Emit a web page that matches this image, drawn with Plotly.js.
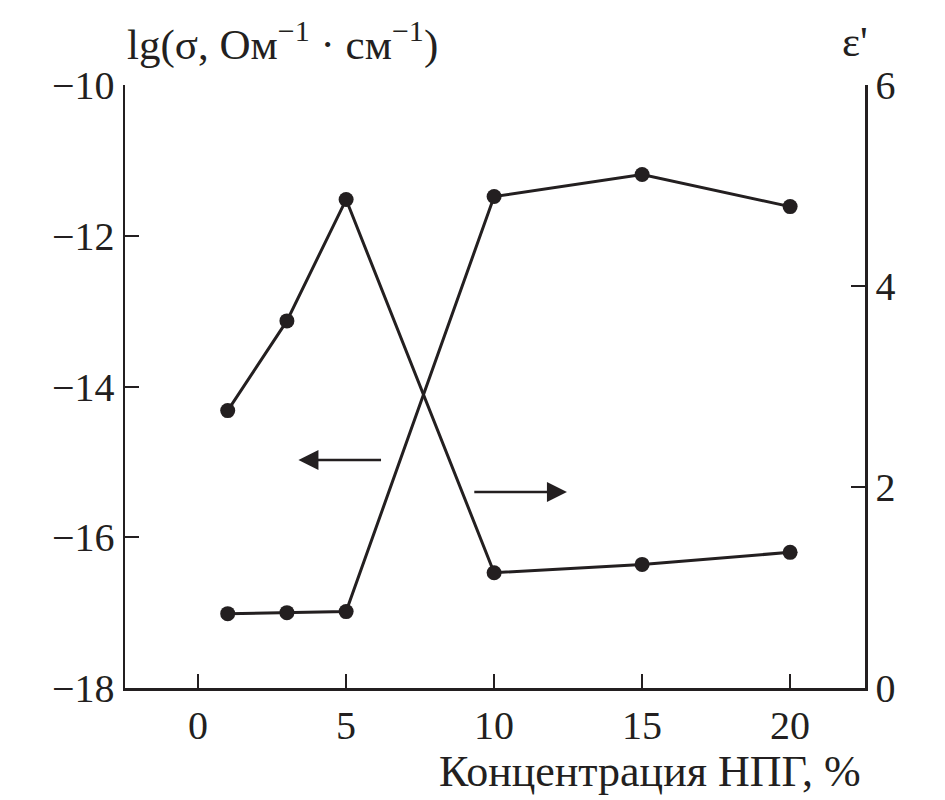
<!DOCTYPE html>
<html>
<head>
<meta charset="utf-8">
<script src="https://cdn.plot.ly/plotly-3.0.1.min.js"></script>
<style>html,body{margin:0;padding:0;background:#fff;}#chart{width:945px;height:800px;}</style>
</head>
<body>
<div id="chart"></div>
<script>
// Data
const concentration = [1, 3, 5, 10, 15, 20];          // Концентрация НПГ, %
const lgSigma = [-14.32, -13.13, -11.52, -16.47, -16.36, -16.20]; // left axis
const epsilon = [0.74, 0.75, 0.76, 4.89, 5.11, 4.79];  // right axis
const xTicks = [0, 5, 10, 15, 20];
const yLeftTicks = [-18, -16, -14, -12, -10];
const yRightTicks = [0, 2, 4, 6];

const ink = '#231f20';
const font = 'Liberation Serif, Times New Roman, serif';

const traces = [
  {x: concentration, y: lgSigma, type: 'scatter', mode: 'lines+markers',
   line: {color: ink, width: 3}, marker: {color: ink, size: 15}, yaxis: 'y', showlegend: false},
  {x: concentration, y: epsilon, type: 'scatter', mode: 'lines+markers',
   line: {color: ink, width: 3}, marker: {color: ink, size: 15}, yaxis: 'y2', showlegend: false}
];

const axisCommon = {
  showline: true, linecolor: ink, linewidth: 2.5, mirror: false,
  ticks: 'inside', ticklen: 14, tickwidth: 2, tickcolor: ink,
  showgrid: false, zeroline: false,
  tickfont: {family: font, size: 40, color: ink}
};

const layout = {
  width: 945, height: 800,
  margin: {l: 125, r: 80, t: 85, b: 112},
  paper_bgcolor: '#fff', plot_bgcolor: '#fff',
  font: {family: font, color: ink},
  xaxis: Object.assign({}, axisCommon, {range: [-2.47, 22.53], tickvals: xTicks}),
  yaxis: Object.assign({}, axisCommon, {range: [-18, -10], tickvals: yLeftTicks, side: 'left'}),
  yaxis2: Object.assign({}, axisCommon, {range: [0, 6], tickvals: yRightTicks, side: 'right', overlaying: 'y'}),
  annotations: [
    {xref: 'paper', yref: 'paper', x: 0, y: 1.072, xanchor: 'left', yanchor: 'middle', showarrow: false,
     text: 'lg(σ, Ом<sup>−1</sup> · см<sup>−1</sup>)', font: {family: font, size: 43, color: ink}},
    {xref: 'paper', yref: 'paper', x: 0.9865, y: 1.072, xanchor: 'center', yanchor: 'middle', showarrow: false,
     text: "ε'", font: {family: font, size: 43, color: ink}},
    {xref: 'paper', yref: 'paper', x: 0.997, y: -0.139, xanchor: 'right', yanchor: 'middle', showarrow: false,
     text: 'Концентрация НПГ, %', font: {family: font, size: 44, color: ink}},
    {xref: 'x', yref: 'y', x: 3.39, y: -14.975, axref: 'x', ayref: 'y', ax: 6.23, ay: -14.975,
     showarrow: true, arrowhead: 2, arrowsize: 1.6, arrowwidth: 2.5, arrowcolor: ink, text: ''},
    {xref: 'x', yref: 'y2', x: 12.46, y: 1.95, axref: 'x', ayref: 'y2', ax: 9.28, ay: 1.95,
     showarrow: true, arrowhead: 2, arrowsize: 1.6, arrowwidth: 2.5, arrowcolor: ink, text: ''}
  ]
};

Plotly.newPlot('chart', traces, layout, {displayModeBar: false, staticPlot: true});
</script>
</body>
</html>
